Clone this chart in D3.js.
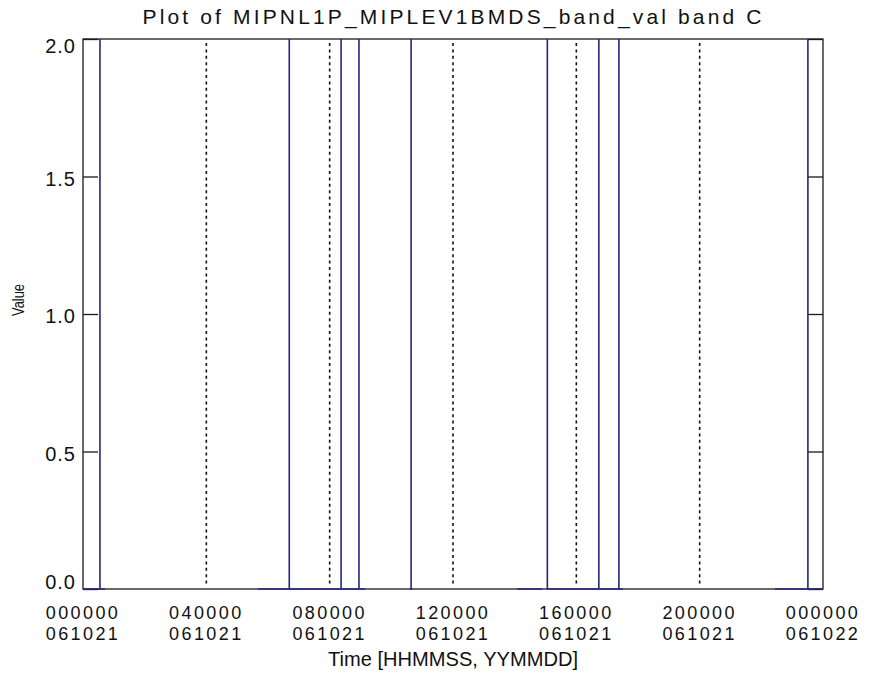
<!DOCTYPE html>
<html>
<head>
<meta charset="utf-8">
<script src="https://cdn.jsdelivr.net/npm/d3@7"></script>
<style>
  html, body { margin: 0; padding: 0; background: #fff; }
  svg { display: block; }
  text { font-family: "Liberation Sans", Arial, sans-serif; fill: #111; }
</style>
</head>
<body>
<svg id="chart" width="873" height="675"></svg>
<script>
// ---- data (time in hours since 000000 061021; null = data gap) ----
const times = [
  0.00, 0.55, 0.55, 0.55, 0.71, null,
  5.68, 6.69, 6.69, 6.69, 8.37, 8.37, 8.37, 8.95, 8.95, 8.95, 9.15, null,
  10.60, 10.64, 10.64, 10.64, 10.68, null,
  14.08, 14.89, null,
  15.04, 15.06, 15.06, 15.06, 16.73, 16.73, 16.73, 17.38, 17.38, 17.38, 17.51, null,
  22.44, 23.51, 23.51, 23.51, 24.00
];
const values = [
  0, 0, 2, 0, 0, null,
  0, 0, 2, 0, 0, 2, 0, 0, 2, 0, 0, null,
  0, 0, 2, 0, 0, null,
  0, 0, null,
  0, 0, 2, 0, 0, 2, 0, 0, 2, 0, 0, null,
  0, 0, 2, 0, 0
];
const xTickValues = [0, 4, 8, 12, 16, 20, 24];
const xTickTime = ["000000", "040000", "080000", "120000", "160000", "200000", "000000"];
const xTickDate = ["061021", "061021", "061021", "061021", "061021", "061021", "061022"];
const yTickValues = [0, 0.5, 1.0, 1.5, 2.0];
const yTickLabels = ["0.0", "0.5", "1.0", "1.5", "2.0"];
const titleText = "Plot of MIPNL1P_MIPLEV1BMDS_band_val band C";
const xTitle = "Time [HHMMSS, YYMMDD]";
const yTitle = "Value";

// ---- layout ----
const L = 83, R = 823, T = 39, B = 589;
const svg = d3.select("#chart");
const x = d3.scaleLinear().domain([0, 24]).range([L, R]);
const y = d3.scaleLinear().domain([0, 2]).range([B, T]);

// dotted x grid (IDL style tick lines)
svg.append("g").selectAll("line")
  .data(xTickValues.slice(1, -1))
  .join("line")
  .attr("x1", d => x(d)).attr("x2", d => x(d))
  .attr("y1", T + 4).attr("y2", B - 4)
  .attr("stroke", "#111").attr("stroke-width", 1.6)
  .attr("stroke-dasharray", "3,3.4");

// frame
svg.append("rect")
  .attr("x", L).attr("y", T).attr("width", R - L).attr("height", B - T)
  .attr("fill", "none").attr("stroke", "#1a1a1a").attr("stroke-width", 1.3);

// y ticks (left and right, inward)
const yAxisL = d3.axisRight(y).tickValues(yTickValues).tickSize(15).tickFormat("");
const gL = svg.append("g").attr("transform", `translate(${L},0)`).call(yAxisL);
const yAxisR = d3.axisLeft(y).tickValues(yTickValues).tickSize(15).tickFormat("");
const gR = svg.append("g").attr("transform", `translate(${R},0)`).call(yAxisR);
[gL, gR].forEach(g => {
  g.select(".domain").remove();
  g.selectAll("line").attr("stroke", "#1a1a1a").attr("stroke-width", 1.3);
});

// y tick labels
svg.append("g").selectAll("text")
  .data(yTickValues)
  .join("text")
  .attr("x", L - 7)
  .attr("y", d => Math.min(Math.max(y(d) + 2, T + 7), B - 7))
  .attr("dy", "0.36em")
  .attr("text-anchor", "end")
  .attr("font-size", 20)
  .attr("letter-spacing", 1)
  .text((d, i) => yTickLabels[i]);

// x tick labels (two lines)
const xl = svg.append("g").selectAll("g")
  .data(xTickValues)
  .join("g");
xl.append("text")
  .attr("x", d => x(d)).attr("y", 619)
  .attr("text-anchor", "middle").attr("font-size", 18).attr("letter-spacing", 2.4)
  .text((d, i) => xTickTime[i]);
xl.append("text")
  .attr("x", d => x(d)).attr("y", 640)
  .attr("text-anchor", "middle").attr("font-size", 18).attr("letter-spacing", 2.4)
  .text((d, i) => xTickDate[i]);

// data line
const pts = times.map((t, i) => ({ t, v: values[i] }));
const line = d3.line()
  .defined(d => d.t !== null && d.v !== null)
  .x(d => x(d.t))
  .y(d => y(d.v));
svg.append("path")
  .datum(pts)
  .attr("d", line)
  .attr("fill", "none")
  .attr("stroke", "#262682")
  .attr("stroke-width", 1.6);

// titles
svg.append("text")
  .attr("x", (L + R) / 2 - 1).attr("y", 24)
  .attr("text-anchor", "middle").attr("font-size", 21)
  .attr("textLength", 619).attr("lengthAdjust", "spacing")
  .text(titleText);

svg.append("text")
  .attr("x", (L + R) / 2).attr("y", 666)
  .attr("text-anchor", "middle").attr("font-size", 20)
  .attr("textLength", 250).attr("lengthAdjust", "spacingAndGlyphs")
  .text(xTitle);

svg.append("text")
  .attr("transform", "translate(24,300) rotate(-90)")
  .attr("text-anchor", "middle").attr("font-size", 16)
  .attr("textLength", 32).attr("lengthAdjust", "spacingAndGlyphs")
  .text(yTitle);
</script>
</body>
</html>
